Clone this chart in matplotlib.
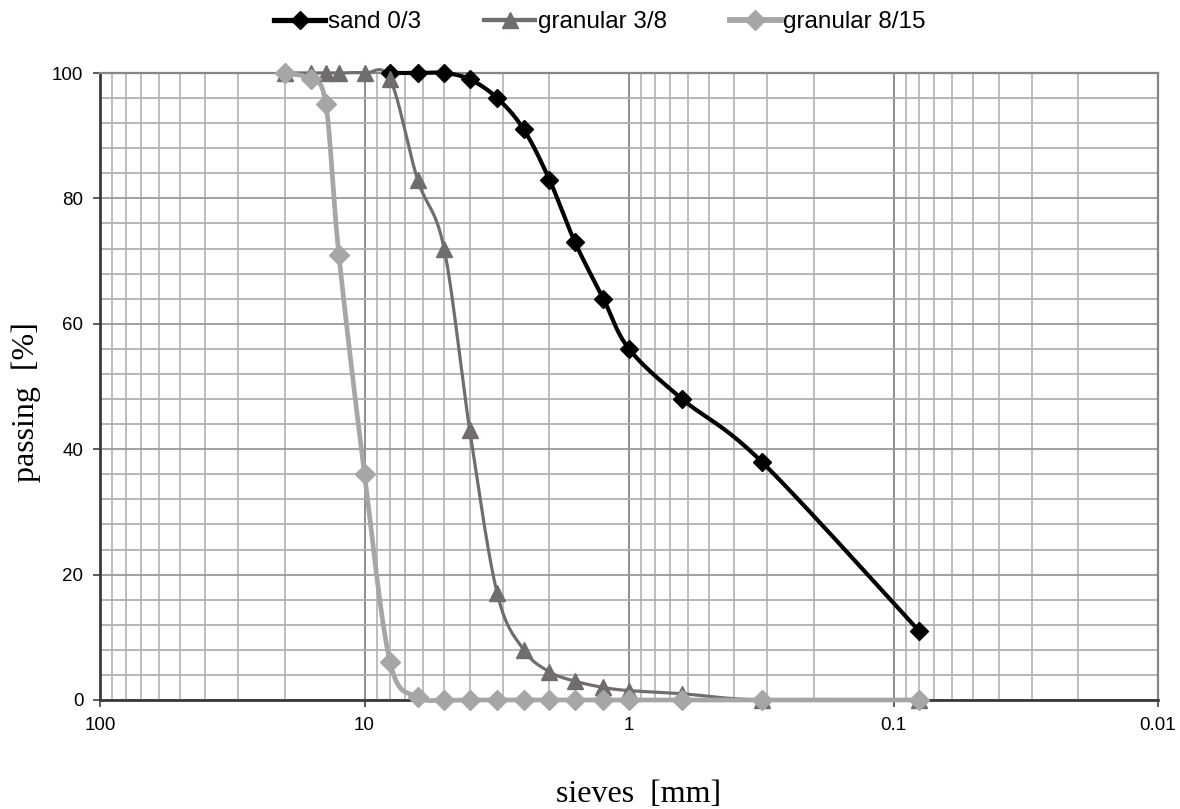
import matplotlib
matplotlib.use("Agg")
import matplotlib.pyplot as plt
import numpy as np
from matplotlib.ticker import FixedLocator, NullFormatter

# sieve sizes [mm]
sieves = [20, 16, 14, 12.5, 10, 8, 6.3, 5, 4, 3.15, 2.5, 2, 1.6, 1.25, 1, 0.63, 0.315, 0.08]

# passing [%]
sand_03 = [None, None, None, None, None, 100, 100, 100, 99, 96, 91, 83, 73, 64, 56, 48, 38, 11]
gran_38 = [100, 100, 100, 100, 100, 99, 83, 72, 43, 17, 8, 4.5, 3, 2, 1.5, 1, 0, 0]
gran_815 = [100, 99, 95, 71, 36, 6, 0.5, 0, 0, 0, 0, 0, 0, 0, 0, 0, 0, 0]

labels = ["sand 0/3", "granular 3/8", "granular 8/15"]
colors = ["#000000", "#716d6d", "#a6a6a6"]
markers = ["D", "^", "D"]
widths = [3.0, 2.3, 3.4]
msizes = [9.5, 11, 10]


def smooth(x, y, n=24):
    # Excel-like smoothed line (Bezier through points, tension 1/6), in log-x space
    u = np.log10(np.asarray(x, float))
    v = np.asarray(y, float)
    pu, pv = [], []
    for i in range(len(u) - 1):
        i0, i3 = max(i - 1, 0), min(i + 2, len(u) - 1)
        p1 = np.array([u[i], v[i]])
        p2 = np.array([u[i + 1], v[i + 1]])
        c1 = p1 + (p2 - np.array([u[i0], v[i0]])) / 6
        c2 = p2 - (np.array([u[i3], v[i3]]) - p1) / 6
        t = np.linspace(0, 1, n)[:, None]
        b = (1 - t) ** 3 * p1 + 3 * (1 - t) ** 2 * t * c1 + 3 * (1 - t) * t ** 2 * c2 + t ** 3 * p2
        pu.append(b[:, 0])
        pv.append(b[:, 1])
    return 10 ** np.concatenate(pu), np.concatenate(pv)


fig = plt.figure(figsize=(11.8, 8.09), dpi=100)
ax = fig.add_axes([100 / 1180, 109 / 809, 1058 / 1180, 627 / 809])

ax.set_xscale("log")
ax.set_xlim(100, 0.01)
ax.set_ylim(0, 100)

handles = []
for data, lab, c, m, lw, ms in zip([sand_03, gran_38, gran_815], labels, colors, markers, widths, msizes):
    xs = [s for s, d in zip(sieves, data) if d is not None]
    ys = [d for d in data if d is not None]
    sx, sy = smooth(xs, ys)
    ax.plot(sx, sy, color=c, lw=lw, zorder=3, clip_on=False, solid_capstyle="round")
    ax.plot(xs, ys, linestyle="none", marker=m, color=c, ms=ms, zorder=4, clip_on=False)
    h, = ax.plot([], [], color=c, lw=lw + 0.8, marker=m, ms=ms)
    handles.append(h)

# grid
ax.xaxis.set_major_locator(FixedLocator([100, 10, 1, 0.1, 0.01]))
ax.xaxis.set_minor_locator(FixedLocator([k * 10.0 ** e for e in range(-2, 2) for k in range(2, 10)]))
ax.xaxis.set_minor_formatter(NullFormatter())
ax.set_xticklabels(["100", "10", "1", "0.1", "0.01"])
ax.yaxis.set_major_locator(FixedLocator(range(0, 101, 20)))
ax.yaxis.set_minor_locator(FixedLocator(range(0, 101, 4)))

ax.grid(which="major", axis="x", color="#868686", lw=1.3, zorder=1)
ax.grid(which="minor", axis="x", color="#b9b9b9", lw=1.3, zorder=1)
ax.grid(which="major", axis="y", color="#9a9a9a", lw=1.3, zorder=1)
ax.grid(which="minor", axis="y", color="#b0b0b0", lw=1.3, zorder=1)
ax.set_axisbelow(True)

ax.tick_params(which="minor", length=0)
ax.tick_params(which="major", direction="out", length=5, width=1.2, color="#404040",
               labelsize=13.5, pad=7)

for side in ["left", "bottom"]:
    ax.spines[side].set_color("#3a3a3a")
    ax.spines[side].set_linewidth(2)
for side in ["top", "right"]:
    ax.spines[side].set_color("#868686")
    ax.spines[side].set_linewidth(1.6)

for t in ax.get_xticklabels() + ax.get_yticklabels():
    t.set_fontfamily(["Liberation Sans", "DejaVu Sans"])

ax.set_xlabel("sieves  [mm]", fontsize=23, family=["Liberation Serif", "DejaVu Serif"])
ax.set_ylabel("passing  [%]", fontsize=23, family=["Liberation Serif", "DejaVu Serif"])
ax.xaxis.set_label_coords((639 - 100) / 1058, -(795 - 700) / 627)
ax.yaxis.set_label_coords((26 - 100) / 1058, (700 - 402) / 627)
ax.xaxis.label.set_va("center")
ax.yaxis.label.set_va("center")

fig.legend(handles, labels, loc="center", bbox_to_anchor=(600 / 1180, 1 - 22 / 809), ncol=3,
           frameon=False, handlelength=2.1, handletextpad=0.1, columnspacing=2.6,
           prop={"family": ["Liberation Sans", "DejaVu Sans"], "size": 17.5})

fig.savefig("out.png", dpi=100)
